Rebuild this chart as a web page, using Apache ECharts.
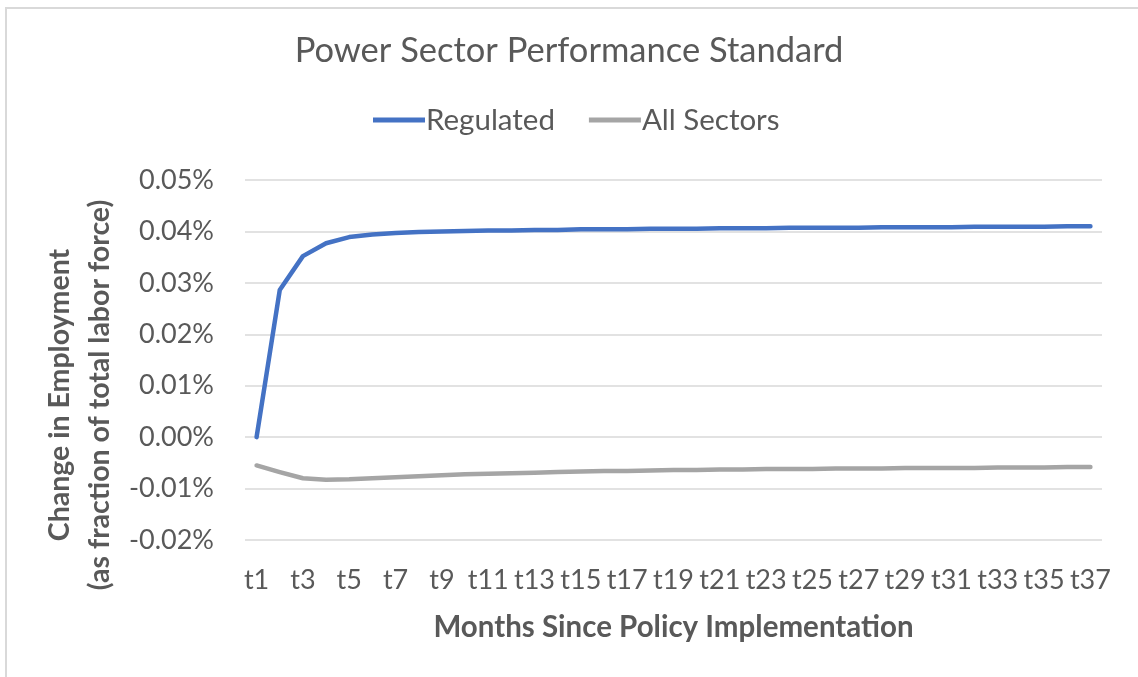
<!DOCTYPE html>
<html>
<head>
<meta charset="utf-8">
<script src="https://cdn.jsdelivr.net/npm/echarts@6/dist/echarts.min.js"></script>
<style>
html,body{margin:0;padding:0;background:#fff;}
#chart{width:1138px;height:677px;}
</style>
</head>
<body>
<div id="chart"></div>
<script>
const categories = ['t1','t2','t3','t4','t5','t6','t7','t8','t9','t10','t11','t12','t13','t14','t15','t16','t17','t18','t19','t20','t21','t22','t23','t24','t25','t26','t27','t28','t29','t30','t31','t32','t33','t34','t35','t36','t37'];
// values in percent of total labor force
const regulated = [0, 0.0286, 0.0352, 0.0377, 0.0389, 0.0394, 0.0397, 0.0399, 0.0400, 0.0401, 0.0402, 0.0402, 0.0403, 0.0403, 0.0404, 0.0404, 0.0404, 0.0405, 0.0405, 0.0405, 0.0406, 0.0406, 0.0406, 0.0407, 0.0407, 0.0407, 0.0407, 0.0408, 0.0408, 0.0408, 0.0408, 0.0409, 0.0409, 0.0409, 0.0409, 0.0410, 0.0410];
const allSectors = [-0.0055, -0.0068, -0.0080, -0.0083, -0.0082, -0.0080, -0.0078, -0.0076, -0.0074, -0.0072, -0.0071, -0.0070, -0.0069, -0.0068, -0.0067, -0.0066, -0.0066, -0.0065, -0.0064, -0.0064, -0.0063, -0.0063, -0.0062, -0.0062, -0.0062, -0.0061, -0.0061, -0.0061, -0.0060, -0.0060, -0.0060, -0.0060, -0.0059, -0.0059, -0.0059, -0.0058, -0.0058];
const seriesNames = ['Regulated', 'All Sectors'];
const titleText = 'Power Sector Performance Standard';
const xAxisTitle = 'Months Since Policy Implementation';
const yAxisTitle = 'Change in Employment\n(as fraction of total labor force)';

const FONT = 'Lato';
const TXT = '#595959';
const chart = echarts.init(document.getElementById('chart'), null, {renderer: 'canvas'});
chart.setOption({
  backgroundColor: '#fff',
  animation: false,
  title: {
    text: titleText, left: 'center', top: 28,
    textStyle: {fontFamily: FONT, fontSize: 34.5, fontWeight: 'normal', color: TXT}
  },
  legend: {
    data: seriesNames, left: 368, top: 100, itemWidth: 52, itemHeight: 10, itemGap: 34,
    icon: 'path://M0,0 L52,0 L52,5 L0,5 Z',
    textStyle: {fontFamily: FONT, fontSize: 29.5, color: TXT, padding: [0,0,0,-4]}
  },
  grid: {left: 245, right: 36, top: 180, height: 360, containLabel: false},
  xAxis: {
    type: 'category', data: categories, boundaryGap: true,
    name: xAxisTitle, nameLocation: 'middle', nameGap: 72,
    nameTextStyle: {fontFamily: FONT, fontSize: 29.5, fontWeight: 'bold', color: TXT},
    axisLine: {show: false}, axisTick: {show: false},
    axisLabel: {interval: 1, margin: 27, fontFamily: FONT, fontSize: 27, color: TXT}
  },
  yAxis: {
    type: 'value', min: -0.02, max: 0.05, interval: 0.01,
    axisLine: {show: false}, axisTick: {show: false},
    splitLine: {lineStyle: {color: '#d9d9d9', width: 1.5}},
    axisLabel: {margin: 31, fontFamily: FONT, fontSize: 27, color: TXT,
      formatter: v => (Math.abs(v) < 1e-9 ? 0 : v).toFixed(2) + '%'}
  },
  graphic: [
    {type: 'rect', z: -10, shape: {x: 6, y: 8, width: 2000, height: 2000}, style: {fill: 'none', stroke: '#d9d9d9', lineWidth: 2}},
    {type: 'text', x: 80, y: 395, rotation: Math.PI / 2,
      style: {text: yAxisTitle, fontFamily: FONT, fontSize: 28.5, fontWeight: 'bold', fill: TXT, align: 'center', verticalAlign: 'middle', lineHeight: 40}}
  ],
  series: [
    {name: seriesNames[0], type: 'line', data: regulated, symbol: 'none', smooth: false,
      lineStyle: {color: '#4472C4', width: 4.5, cap: 'round', join: 'round'}, itemStyle: {color: '#4472C4'}},
    {name: seriesNames[1], type: 'line', data: allSectors, symbol: 'none', smooth: false,
      lineStyle: {color: '#A5A5A5', width: 4.5, cap: 'round', join: 'round'}, itemStyle: {color: '#A5A5A5'}}
  ]
});
</script>
</body>
</html>
